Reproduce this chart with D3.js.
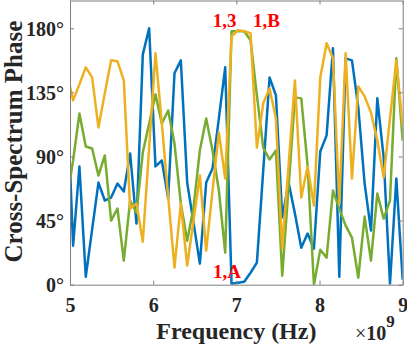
<!DOCTYPE html>
<html><head><meta charset="utf-8">
<script src="https://cdn.jsdelivr.net/npm/d3@7"></script>
<style>html,body{margin:0;padding:0;background:#fff;} svg{display:block;}</style>
</head><body>
<svg id="chart" width="407" height="346"></svg>
<script>
// Frequency sweep (GHz): uniform grid, first point lies just left of the 5 GHz limit
const freqStartGHz = 4.961;
const freqStepGHz = 0.0762;

// Cross-spectrum phase (degrees)
const blueSeries = [140, 27.4, 83, 5.6, 38.7, 71.7, 59.1, 61.2, 71, 65.4, 92.1, 42.9, 161.7, 180, 83, 87.2, 60.5, 148.4, 157.5, 71.7, 43.6, 14.8, 71.7, 81.6, 116.7, 152.6, 0.7, 1.4, 2.1, 8.4, 15.5, 80.2, 145.5, 132.9, 47.1, 71.7, 49.9, 26, 35.9, 25.3, 93.5, 104.8, 165.9, 5.6, 158.9, 157.5, 124.5, 71, 38, 130.8, 89.3, 0.7, 74.5, 3.5];
const greenSeries = [59.1, 87.2, 120.2, 97, 95.6, 76.6, 90.7, 45, 53.4, 16.9, 59.1, 50.6, 92.8, 113.2, 133.6, 113.2, 122.3, 99.1, 57, 30.9, 54.1, 94.2, 116.7, 94.2, 66.1, 22.5, 177.9, 177.9, 177.9, 171.6, 132.9, 96.3, 87.9, 94.2, 6.3, 68.9, 131.5, 130.8, 83.7, 0, 24.6, 19, 66.1, 53.4, 41.5, 33, 4.9, 47.8, 16.9, 64, 46.4, 59.1, 158.9, 101.2];
const yellowSeries = [149.1, 129.4, 140.6, 152.6, 145.5, 110.4, 134.3, 157.5, 156.8, 143.4, 53.4, 57, 30.2, 96.3, 162.4, 113.2, 61.9, 12, 57, 13.4, 45, 76.6, 23.9, 66.1, 106.9, 74.5, 174.4, 178.6, 177.9, 176.5, 96.3, 127.3, 137.8, 116.7, 25.3, 83.7, 143.4, 61.2, 83, 55.5, 145.5, 169.5, 158.9, 57, 162.4, 74.5, 139.2, 132.2, 120.9, 101.2, 75.2, 116.7, 157.5, 111.1];

const freqGHz = d3.range(blueSeries.length).map(i => freqStartGHz + i * freqStepGHz);

const xTicks = [5, 6, 7, 8, 9];
const yTicks = [0, 45, 90, 135, 180];

const annoText = ["1,3", "1,B", "1,A"];
const annoFreq = [6.715, 7.20, 6.719];
const annoPhase = [181, 181, 4.7];

const seriesList = [
  {name: "blue", values: blueSeries, color: "#0072BD"},
  {name: "green", values: greenSeries, color: "#77AC30"},
  {name: "yellow", values: yellowSeries, color: "#EDB120"}
];

const L = 70, R = 402.7, T = 0.5, B = 284.7;
const svg = d3.select("#chart");
const x = d3.scaleLinear().domain([5, 9]).range([L, R]);
const y = d3.scaleLinear().domain([0, 199.5]).range([B, T]);
const font = "'Liberation Serif', 'Times New Roman', serif";
const axisColor = "#7f7f7f";

svg.append("defs").append("clipPath").attr("id", "clip")
  .append("rect").attr("x", L).attr("y", T).attr("width", R - L).attr("height", B - T);

const gLines = svg.append("g").attr("clip-path", "url(#clip)");
const line = d3.line().x((d, i) => x(freqGHz[i])).y(d => y(d));
seriesList.forEach(s => {
  gLines.append("path").datum(s.values)
    .attr("d", line)
    .attr("fill", "none")
    .attr("stroke", s.color)
    .attr("stroke-width", 2.5)
    .attr("stroke-linejoin", "round");
});

// Axes (box with inward ticks)
const tickLen = 4;
const gx = svg.append("g").attr("transform", `translate(0,${B})`)
  .call(d3.axisBottom(x).tickValues(xTicks).tickSizeInner(-tickLen).tickSizeOuter(0).tickPadding(10).tickFormat(d3.format("d")));
const gxTop = svg.append("g").attr("transform", `translate(0,${T})`)
  .call(d3.axisTop(x).tickValues(xTicks).tickSizeInner(-tickLen).tickSizeOuter(0).tickFormat(""));
const gy = svg.append("g").attr("transform", `translate(${L},0)`)
  .call(d3.axisLeft(y).tickValues(yTicks).tickSizeInner(-tickLen).tickSizeOuter(0).tickPadding(6).tickFormat(d => d + "°"));
const gyRight = svg.append("g").attr("transform", `translate(${R},0)`)
  .call(d3.axisRight(y).tickValues(yTicks).tickSizeInner(-tickLen).tickSizeOuter(0).tickFormat(""));

[gx, gxTop, gy, gyRight].forEach(g => {
  g.select(".domain").attr("stroke", axisColor).attr("stroke-width", 1);
  g.selectAll(".tick line").attr("stroke", axisColor);
  g.selectAll("text").attr("fill", "#262626").attr("font-family", font)
    .attr("font-weight", "bold").attr("font-size", 20);
});
gx.selectAll(".tick text").attr("dy", "0.71em").attr("y", 13);
gy.selectAll(".tick text").attr("x", -6).attr("dy", "0.34em");

// Axis labels
svg.append("text")
  .attr("x", (L + R) / 2).attr("y", 339)
  .attr("text-anchor", "middle")
  .attr("font-family", font).attr("font-weight", "bold").attr("font-size", 24)
  .attr("fill", "#262626")
  .text("Frequency (Hz)");

svg.append("text")
  .attr("transform", `translate(21.5,${(T + B) / 2 - 1}) rotate(-90)`)
  .attr("text-anchor", "middle")
  .attr("font-family", font).attr("font-weight", "bold").attr("font-size", 25)
  .attr("fill", "#262626")
  .text("Cross-Spectrum Phase");

// Exponent label
const expo = svg.append("text")
  .attr("x", 355).attr("y", 340)
  .attr("font-family", font).attr("font-size", 20).attr("fill", "#262626");
expo.append("tspan").text("×");
expo.append("tspan").attr("font-weight", "bold").text("10");
expo.append("tspan").attr("font-weight", "bold").attr("font-size", 17).attr("dy", -13).text("9");

// Annotations
annoText.forEach((t, i) => {
  svg.append("text")
    .attr("x", x(annoFreq[i])).attr("y", y(annoPhase[i]))
    .attr("font-family", font).attr("font-weight", "bold").attr("font-size", 19)
    .attr("fill", "#FF0000")
    .text(t);
});
</script>
</body></html>
